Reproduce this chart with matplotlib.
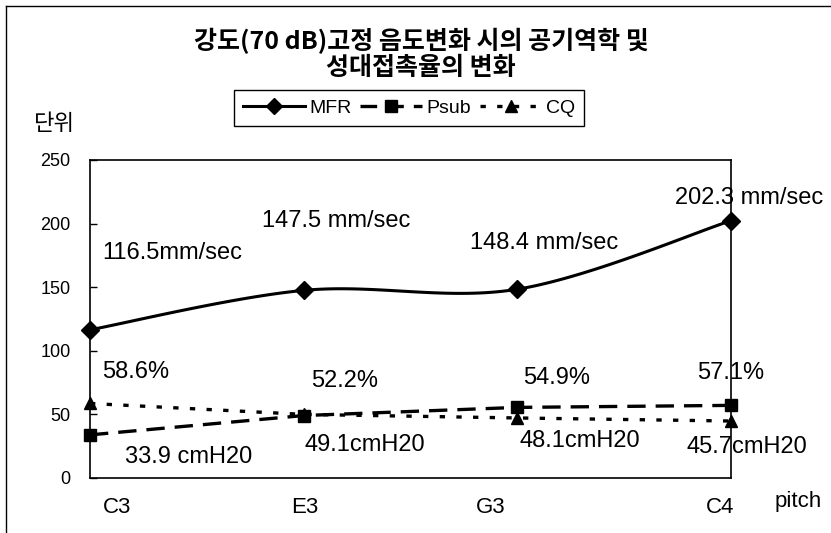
# 강도 고정 음도변화 차트 재현
import numpy as np
import matplotlib
matplotlib.use("Agg")
import matplotlib.pyplot as plt
from matplotlib.lines import Line2D
from matplotlib.transforms import ScaledTranslation

plt.rcParams['font.family'] = ['Liberation Sans', 'Noto Sans CJK KR', 'DejaVu Sans']

# data
pitches = ["C3", "E3", "G3", "C4"]
mfr = [116.5, 147.5, 148.4, 202.3]
psub = [33.9, 49.1, 55.5, 57.1]
cq = [58.6, 50.0, 47.2, 44.8]

mfr_labels = ["116.5mm/sec", "147.5 mm/sec", "148.4 mm/sec", "202.3 mm/sec"]
pct_labels = ["58.6%", "52.2%", "54.9%", "57.1%"]
cm_labels = ["33.9 cmH20", "49.1cmH20", "48.1cmH20", "45.7cmH20"]

# label positions (data units)
mfr_pos = [(0.056, 176.6), (0.805, 201.7), (1.778, 185.0), (2.738, 220.2)]
pct_pos = [(0.056, 83.1), (1.034, 76.0), (2.026, 78.4), (2.841, 82.3)]
cm_pos = [(0.164, 16.5), (1.006, 25.9), (2.012, 29.0), (2.794, 24.3)]
tick_shift_px = [27, 1, -27, -11]


def smooth(xs, ys, n=40):
    # excel style smoothed line (catmull-rom as bezier)
    pts = np.column_stack([xs, ys]).astype(float)
    p = np.vstack([pts[0], pts, pts[-1]])
    t = np.linspace(0, 1, n)[:, None]
    segs = []
    for i in range(1, len(p) - 2):
        p0, p1, p2, p3 = p[i - 1], p[i], p[i + 1], p[i + 2]
        c1 = p1 + (p2 - p0) / 6
        c2 = p2 - (p3 - p1) / 6
        segs.append((1 - t) ** 3 * p1 + 3 * (1 - t) ** 2 * t * c1
                    + 3 * (1 - t) * t ** 2 * c2 + t ** 3 * p2)
    return np.vstack(segs)


x = np.arange(len(pitches))

fig = plt.figure(figsize=(8.31, 5.33), dpi=100)
ax = fig.add_axes([90 / 831, 1 - 478 / 533, 641 / 831, 318 / 533])

curve = smooth(x, mfr)
ax.plot(curve[:, 0], curve[:, 1], color="black", lw=2.2, clip_on=False)
ax.plot(x, mfr, ls="none", marker="D", ms=9, color="black", clip_on=False)
ax.plot(x, psub, color="black", lw=2.4, dashes=(5.5, 3), marker="s", ms=9,
        clip_on=False)
ax.plot(x, cq, color="black", lw=2.4, dashes=(1.6, 3.4), marker="^", ms=9,
        clip_on=False)

for lab, (px, py) in zip(mfr_labels + pct_labels + cm_labels,
                         mfr_pos + pct_pos + cm_pos):
    ax.text(px, py, lab, fontsize=17, ha="left", va="center")

ax.set_xlim(0, 3)
ax.set_ylim(0, 250)
ax.set_yticks([0, 50, 100, 150, 200, 250])
ax.tick_params(axis="y", direction="in", length=5, width=1, labelsize=13, pad=14)
ax.set_xticks(x)
ax.set_xticklabels(pitches, fontsize=16)
ax.tick_params(axis="x", length=0, pad=14)
for lab, dx in zip(ax.get_xticklabels(), tick_shift_px):
    lab.set_transform(lab.get_transform() + ScaledTranslation(dx / 100, 0, fig.dpi_scale_trans))
for s in ax.spines.values():
    s.set_linewidth(1.2)

fig.text(798 / 831, 1 - 502 / 533, "pitch", fontsize=16, ha="center", va="center")
fig.text(54 / 831, 1 - 123 / 533, "단위", fontsize=16, ha="center", va="center",
         family=["Noto Sans CJK KR"])
fig.text(421 / 831, 1 - 54 / 533, "강도(70 dB)고정 음도변화 시의 공기역학 및\n성대접촉율의 변화",
         fontsize=18, fontweight="bold", ha="center", va="center", linespacing=1.1,
         family=["Noto Sans CJK KR"])

handles = [
    Line2D([], [], color="black", lw=2.2, marker="D", ms=8),
    Line2D([], [], color="black", lw=2.4, dashes=(5, 3), marker="s", ms=8),
    Line2D([], [], color="black", lw=2.4, dashes=(1.6, 3.4), marker="^", ms=8),
]
leg = fig.legend(handles, ["MFR", "Psub", "CQ"], loc="center", ncol=3,
                 bbox_to_anchor=(409 / 831, 1 - 108 / 533), fontsize=14,
                 handlelength=3.2, handletextpad=0.2, columnspacing=0.45,
                 borderpad=0.45, fancybox=False, edgecolor="black", framealpha=1)
leg.get_frame().set_linewidth(1.0)

# outer frame
fig.add_artist(Line2D([6 / 831, 6 / 831], [0, 1 - 6 / 533], color="black", lw=1))
fig.add_artist(Line2D([6 / 831, 1], [1 - 6 / 533, 1 - 6 / 533], color="black", lw=1))

fig.savefig("out.png", dpi=100, facecolor="white")
